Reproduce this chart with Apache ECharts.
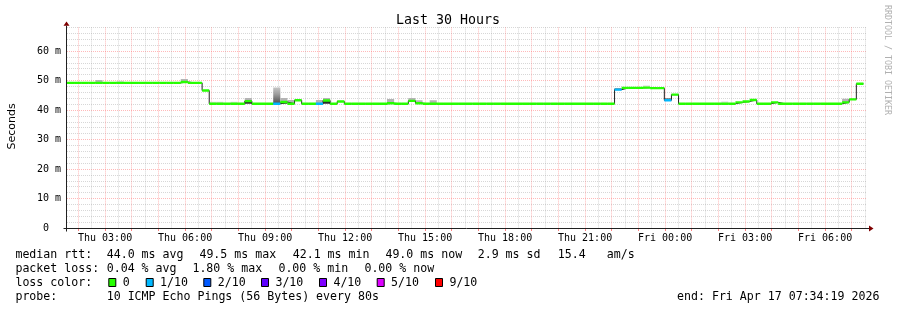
<!DOCTYPE html>
<html><head><meta charset="utf-8">
<script src="https://cdn.jsdelivr.net/npm/echarts@6/dist/echarts.min.js"></script>
<style>html,body{margin:0;padding:0;background:#fff}#c{width:897px;height:310px}</style>
</head><body><div id="c"></div>
<script>
// ---- time base (hours since Thu 00:00) ----
const startHour = 1 + 34/60 + 19/3600;   // Thu 01:34:19
const spanHours = 30;
const stepHours = 16/60;                  // 960 s consolidation step

// ---- median rtt per step (ms) ----
const median = [
  49.2,49.2,49.2,49.2,49.2,49.2,49.2,49.2,49.2,49.2,
  49.2,49.2,49.2,49.2,49.2,49.2,49.5,49.2,49.2,46.6,
  42.1,42.1,42.1,42.1,42.1,43.0,42.1,42.1,42.1,42.1,
  42.7,42.1,43.3,42.1,42.1,42.1,43.2,42.1,42.9,42.1,
  42.1,42.1,42.1,42.1,42.1,42.3,42.1,42.1,43.1,42.3,
  42.1,42.1,42.1,42.1,42.1,42.1,42.1,42.1,42.1,42.1,
  42.1,42.1,42.1,42.1,42.1,42.1,42.1,42.1,42.1,42.1,
  42.1,42.1,42.1,42.1,42.1,42.1,42.1,46.9,47.5,47.5,
  47.5,47.6,47.4,47.4,43.3,45.2,42.1,42.1,42.1,42.1,
  42.1,42.1,42.1,42.1,42.6,42.9,43.4,42.1,42.1,42.6,
  42.1,42.1,42.1,42.1,42.1,42.1,42.1,42.1,42.1,42.6,
  43.6,48.9
];
// ---- lost pings per step (index into lossColors) ----
const loss = [
  0,0,0,0,0,0,0,0,0,0,
  0,0,0,0,0,0,0,0,0,0,
  0,0,0,0,0,0,0,0,0,1,
  0,0,0,0,0,1,0,0,0,0,
  0,0,0,0,0,0,0,0,0,0,
  0,0,0,0,0,0,0,0,0,0,
  0,0,0,0,0,0,0,0,0,0,
  0,0,0,0,0,0,0,1,0,0,
  0,0,0,0,1,0,0,0,0,0,
  0,0,0,0,0,0,0,0,0,0,
  0,0,0,0,0,0,0,0,0,0,
  0,0
];
// ---- highest ping per step (smoke above median), ms ----
const smokeHi = [
  null,null,null,null,50.2,null,null,49.9,null,null,
  null,null,null,null,null,null,50.5,null,null,null,
  42.8,42.8,null,42.8,null,44.1,null,null,null,47.6,
  44.1,43.4,null,null,null,43.4,44.1,null,null,null,
  null,null,null,null,null,43.7,null,null,44.1,43.3,
  null,43.3,null,null,null,null,null,null,null,null,
  null,null,null,null,null,null,null,null,null,null,
  null,null,null,null,null,null,null,null,null,null,
  null,48.3,null,null,null,null,null,null,null,null,
  null,null,42.9,null,null,null,null,null,null,null,
  null,null,null,null,null,null,null,null,null,43.8,
  null,null
];
// ---- pings close to the median (dark smoke), ms ----
const darkPing = [
  null,null,null,null,null,null,null,null,null,null,
  null,null,null,null,null,null,null,null,null,null,
  null,null,null,null,null,42.1,null,null,null,null,
  42.1,null,null,null,null,null,42.1,null,null,null,
  null,null,null,null,null,null,null,null,null,null,
  null,null,null,null,null,null,null,null,null,null,
  null,null,null,null,null,null,null,null,null,null,
  null,null,null,null,null,null,null,47.3,null,null,
  null,null,null,null,43.9,null,null,null,null,null,
  null,null,null,null,null,null,null,null,null,null,
  null,null,null,null,null,null,null,null,null,null,
  null,null
];

const lossColors = ['#26ff00','#00b8ff','#0059ff','#5e00ff','#7e00ff','#dd00ff','#ff0000'];
const lossLabels = ['0','1/10','2/10','3/10','4/10','5/10','9/10'];
const xLabels = ['Thu 03:00','Thu 06:00','Thu 09:00','Thu 12:00','Thu 15:00','Thu 18:00','Thu 21:00','Fri 00:00','Fri 03:00','Fri 06:00'];
const yLabels = ['0  ','10 m','20 m','30 m','40 m','50 m','60 m'];
const yMax = 68;

const legendRows = [
  [[16,'median rtt:'],[107.3,'44.0 ms avg'],[200,'49.5 ms max'],[293.3,'42.1 ms min'],[386,'49.0 ms now'],[478.3,'2.9 ms sd'],[558.3,'15.4'],[607.3,'am/s']],
  [[16,'packet loss:'],[107.3,'0.04 % avg'],[193,'1.80 % max'],[279,'0.00 % min'],[365,'0.00 % now']],
  [[16,'loss color:']],
  [[16,'probe:'],[107.3,'10 ICMP Echo Pings (56 Bytes) every 80s'],[677.6,'end: Fri Apr 17 07:34:19 2026']]
];
const lossBoxX = [108.3,145.7,203.3,261,319,376.7,435];

// ---- layout ----
const plot = {left: 67, top: 27.4, width: 800, height: 200.6};
const pxPerHour = plot.width / spanHours;
const endHour = startHour + spanHours;
const halfFirst = Math.ceil(startHour*2)/2, halfLast = Math.floor(endHour*2)/2;
const hourFirst = Math.ceil(startHour), hourLast = Math.floor(endHour);
const RED = 'rgba(255,100,100,0.45)', GRAY = 'rgba(160,160,160,0.42)';
const MONO = '"DejaVu Sans Mono"';

const sampleStart = median.map((_, i) => startHour + i*stepHours);
const bandData = median.map((m, i) => [sampleStart[i], sampleStart[i]+stepHours, m, loss[i]]);
const smokeData = [];
smokeHi.forEach((h, i) => { if (h != null) smokeData.push([sampleStart[i], sampleStart[i]+stepHours, median[i], h]); });
const darkData = [];
darkPing.forEach((d, i) => { if (d != null) darkData.push([sampleStart[i], sampleStart[i]+stepHours, median[i], d]); });
const lineData = median.map((m, i) => [sampleStart[i], m]);
lineData.push([sampleStart[median.length-1]+stepHours, median[median.length-1]]);

function rectBetween(api, t0, t1, a, b) {
  const p0 = api.coord([t0, Math.max(a, b)]);
  const p1 = api.coord([t1, Math.min(a, b)]);
  return {x: p0[0], y: p0[1], width: p1[0]-p0[0], height: p1[1]-p0[1]};
}

const chart = echarts.init(document.getElementById('c'), null, {renderer: 'canvas', width: 897, height: 310});
const hiddenY = (g) => ({gridIndex: g, type: 'value', min: 0, max: yMax, show: false});
chart.setOption({
  animation: false,
  backgroundColor: '#ffffff',
  grid: [
    {left: plot.left, top: plot.top, width: plot.width, height: plot.height},
    {left: plot.left + (halfFirst-startHour)*pxPerHour, top: plot.top, width: (halfLast-halfFirst)*pxPerHour, height: plot.height},
    {left: plot.left + (hourFirst-startHour)*pxPerHour, top: plot.top, width: (hourLast-hourFirst)*pxPerHour, height: plot.height}
  ],
  xAxis: [
    {gridIndex: 0, type: 'value', min: startHour, max: endHour, axisLine: {show: false}, axisTick: {show: false}, axisLabel: {show: false}, splitLine: {show: false}},
    {gridIndex: 1, type: 'value', min: halfFirst, max: halfLast, interval: 0.5, axisLine: {show: false}, axisTick: {show: false}, axisLabel: {show: false},
      splitLine: {show: true, lineStyle: {color: [RED, GRAY], width: 1, type: [1, 1]}}},
    {gridIndex: 2, type: 'value', min: hourFirst, max: hourLast, interval: 1, axisLine: {show: false},
      axisTick: {show: true, length: 3, lineStyle: {color: 'rgba(255,95,95,0.8)'}},
      axisLabel: {margin: 5, color: '#000', fontFamily: MONO, fontSize: 10,
        formatter: (v) => { const k = Math.round(v); return (k % 3 === 0 && xLabels[k/3-1]) ? xLabels[k/3-1] : ''; }},
      splitLine: {show: false}}
  ],
  yAxis: [
    {gridIndex: 0, type: 'value', min: 0, max: yMax, interval: 2, axisLine: {show: false}, axisTick: {show: false},
      axisLabel: {margin: 6, color: '#000', fontFamily: MONO, fontSize: 10,
        formatter: (v) => { const k = Math.round(v); return (k % 10 === 0 && yLabels[k/10] != null) ? yLabels[k/10] : ''; }},
      splitLine: {show: true, lineStyle: {color: [RED, GRAY, GRAY, GRAY, GRAY], width: 1, type: [1, 1]}}},
    hiddenY(1), hiddenY(2)
  ],
  series: [
    {type: 'custom', xAxisIndex: 0, yAxisIndex: 0, clip: true, z: 2, encode: {x: [0, 1], y: [2, 3]}, data: smokeData,
      renderItem: (params, api) => {
        const t0 = api.value(0), t1 = api.value(1), m = api.value(2), h = api.value(3);
        const d = h - m;
        const fill = d > 2
          ? new echarts.graphic.LinearGradient(0, 0, 0, 1, [{offset: 0, color: '#c4c4c4'}, {offset: 0.4, color: '#9e9e9e'}, {offset: 1, color: '#4c4c4c'}])
          : (d < 0.8 ? '#dadada' : '#b4b4b4');
        return {type: 'rect', shape: rectBetween(api, t0, t1, m, h), style: {fill}};
      }},
    {type: 'custom', xAxisIndex: 0, yAxisIndex: 0, clip: true, z: 3, encode: {x: [0, 1], y: [2, 3]}, data: darkData,
      renderItem: (params, api) => ({type: 'rect', shape: rectBetween(api, api.value(0), api.value(1), api.value(2), api.value(3)), style: {fill: '#2c2c2c'}})},
    {type: 'line', xAxisIndex: 0, yAxisIndex: 0, step: 'end', symbol: 'none', z: 4, data: lineData,
      lineStyle: {color: '#202020', width: 1}},
    {type: 'custom', xAxisIndex: 0, yAxisIndex: 0, clip: true, z: 5, encode: {x: [0, 1], y: [2, 2]}, data: bandData,
      renderItem: (params, api) => {
        const a = api.coord([api.value(0), api.value(2)]);
        const b = api.coord([api.value(1), api.value(2)]);
        return {type: 'rect', shape: {x: a[0], y: a[1]-1.2, width: b[0]-a[0], height: 2.4}, style: {fill: lossColors[api.value(3)]}};
      }}
  ]
});

// ---- axes lines, arrows, texts ----
const o = chart.convertToPixel({gridIndex: 0}, [startHour, 0]);
const e = chart.convertToPixel({gridIndex: 0}, [endHour, yMax]);
const ax = Math.round(o[0]) - 0.5, ay = Math.round(o[1]) + 0.5;
const ARROW = '#7f0000';
const g = [];
g.push({type: 'line', z: 100, shape: {x1: ax - 3, y1: ay, x2: e[0] + 2.5, y2: ay}, style: {stroke: '#202020', lineWidth: 1}});
g.push({type: 'line', z: 100, shape: {x1: ax, y1: ay + 3, x2: ax, y2: e[1] - 1.7}, style: {stroke: '#202020', lineWidth: 1}});
g.push({type: 'polygon', z: 101, shape: {points: [[e[0]+2, ay-3], [e[0]+6.5, ay], [e[0]+2, ay+3]]}, style: {fill: ARROW}});
g.push({type: 'polygon', z: 101, shape: {points: [[ax-3, e[1]-1.7], [ax, e[1]-6], [ax+3, e[1]-1.7]]}, style: {fill: ARROW}});

g.push({type: 'text', z: 100, style: {text: 'Last 30 Hours', x: 448, y: 20.3, font: '13.3px ' + MONO, fill: '#000', textAlign: 'center', textVerticalAlign: 'middle'}});
g.push({type: 'text', z: 100, rotation: Math.PI/2, x: 11.7, y: 126.5, style: {text: 'Seconds', x: 0, y: 0, font: '11px "DejaVu Sans"', fill: '#000', textAlign: 'center', textVerticalAlign: 'middle'}});
g.push({type: 'text', z: 100, rotation: -Math.PI/2, x: 887.5, y: 60, style: {text: 'RRDTOOL / TOBI OETIKER', x: 0, y: 0, font: '8.3px ' + MONO, fill: '#b0b0b0', textAlign: 'center', textVerticalAlign: 'middle'}});

const rowY = [254.9, 268.9, 282.9, 296.9];
legendRows.forEach((row, r) => row.forEach(([x, t]) => {
  g.push({type: 'text', z: 100, style: {text: t, x: x - 0.6, y: rowY[r], font: '11.6px ' + MONO, fill: '#000', textAlign: 'left', textVerticalAlign: 'middle'}});
}));
lossColors.forEach((c, i) => {
  g.push({type: 'rect', z: 100, shape: {x: lossBoxX[i] + 0.5, y: 278.5, width: 7, height: 8}, style: {fill: c, stroke: '#000', lineWidth: 1}});
  g.push({type: 'text', z: 100, style: {text: lossLabels[i], x: lossBoxX[i] + 14.4, y: rowY[2], font: '11.6px ' + MONO, fill: '#000', textAlign: 'left', textVerticalAlign: 'middle'}});
});
chart.setOption({graphic: g});
</script></body></html>
